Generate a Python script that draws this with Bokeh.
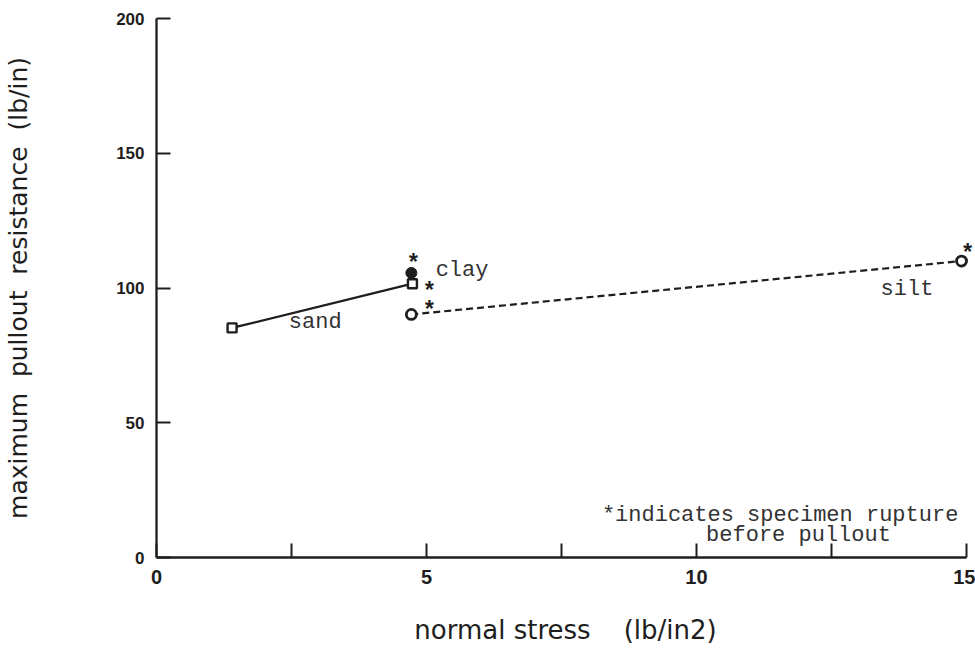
from bokeh.plotting import figure
from bokeh.models import Range1d, FixedTicker, Label, ColumnDataSource
from bokeh.core.properties import value
from bokeh.embed import file_html
from bokeh.resources import INLINE

# Pullout tests: normal stress (lb/in2) vs maximum pullout resistance (lb/in)
sand_x = [1.4, 4.74]
sand_y = [85.2, 101.6]
clay_x = [4.72]
clay_y = [105.6]
silt_x = [4.72, 14.91]
silt_y = [90.2, 110.0]

# Tests in which the specimen ruptured before pullout (marked with *)
rupture_x = [4.72, 4.74, 4.72, 14.91]
rupture_y = [105.6, 101.6, 90.2, 110.0]

x_ticks = [0, 2.5, 5, 7.5, 10, 12.5, 15]
x_tick_labels = {0: "0", 2.5: "", 5: "5", 7.5: "", 10: "10", 12.5: "", 15: "15"}
y_ticks = [0, 50, 100, 150, 200]

INK = "#1e1e1e"
MONO = "Liberation Mono"
SANS = "DejaVu Sans"

p = figure(width=975, height=648, output_backend="svg", toolbar_location=None,
           x_range=Range1d(0, 15.15), y_range=Range1d(0, 200),
           min_border_left=156, min_border_right=1, min_border_top=18,
           min_border_bottom=91)
p.outline_line_color = None
p.xgrid.visible = False
p.ygrid.visible = False
p.background_fill_color = "white"
p.border_fill_color = "white"

# axes
p.xaxis.bounds = (0, 15)
p.yaxis.bounds = (0, 200)
p.xaxis.ticker = FixedTicker(ticks=x_ticks)
p.xaxis.major_label_overrides = {k: v for k, v in x_tick_labels.items()}
p.yaxis.ticker = FixedTicker(ticks=y_ticks)
for ax in (p.xaxis, p.yaxis):
    ax.axis_line_color = INK
    ax.axis_line_width = 2.3
    ax.major_tick_line_color = INK
    ax.major_tick_line_width = 2
    ax.major_tick_in = 14
    ax.major_tick_out = 0
    ax.minor_tick_line_color = None
    ax.major_label_text_color = INK
    ax.major_label_text_font = "Liberation Sans"
    ax.major_label_text_font_style = "bold"
    ax.axis_label_text_color = INK
    ax.axis_label_text_font = SANS
    ax.axis_label_text_font_style = "normal"
    ax.major_label_standoff = 12

p.xaxis.major_label_text_font_size = "20px"
p.yaxis.major_label_text_font_size = "17px"
p.xaxis.axis_label = "normal stress\u00a0\u00a0\u00a0\u00a0(lb/in2)"
p.yaxis.axis_label = "maximum\u00a0\u00a0pullout\u00a0\u00a0resistance\u00a0\u00a0(lb/in)"
p.xaxis.axis_label_text_font_size = "26px"
p.yaxis.axis_label_text_font_size = "25px"
p.xaxis.axis_label_standoff = 28
p.yaxis.axis_label_standoff = 80

# sand: solid line with square markers
p.line(sand_x, sand_y, line_color=INK, line_width=2.2)
p.scatter(sand_x, sand_y, marker="square", size=9, fill_color="white",
          line_color=INK, line_width=2.4)

# silt: dashed line with open circles
p.line(silt_x, silt_y, line_color=INK, line_width=2.2, line_dash="7 4")
p.scatter(silt_x, silt_y, marker="circle", size=10, fill_color="white",
          line_color=INK, line_width=2.8)

# clay: single filled circle
p.scatter(clay_x, clay_y, marker="circle", size=11, fill_color=INK,
          line_color=INK, line_width=1)

# rupture asterisks next to each ruptured specimen
rup = ColumnDataSource(dict(x=rupture_x, y=rupture_y,
                            dx=[2, 17, 18, 6], dy=[-8, 9, -2, -6]))
p.text(x="x", y="y", x_offset="dx", y_offset="dy", text=value("*"), source=rup,
       text_font=value(MONO), text_font_size="23px", text_font_style="bold",
       text_color=INK, text_align="center", text_baseline="middle")

# series names
for name, lx, ly in [("clay", 5.17, 106.6), ("sand", 2.45, 87.3), ("silt", 13.41, 99.6)]:
    p.add_layout(Label(x=lx, y=ly, text=name, text_font=MONO, text_font_size="22px",
                       text_color="#333333", text_baseline="middle", text_align="left"))

# footnote
p.add_layout(Label(x=11.55, y=15.6, text="*indicates specimen rupture", text_font=MONO,
                   text_font_size="22px", text_color="#333333", text_align="center",
                   text_baseline="alphabetic"))
p.add_layout(Label(x=11.89, y=8.1, text="before pullout", text_font=MONO,
                   text_font_size="22px", text_color="#333333", text_align="center",
                   text_baseline="alphabetic"))

open("out.html", "w").write(file_html(p, INLINE))
